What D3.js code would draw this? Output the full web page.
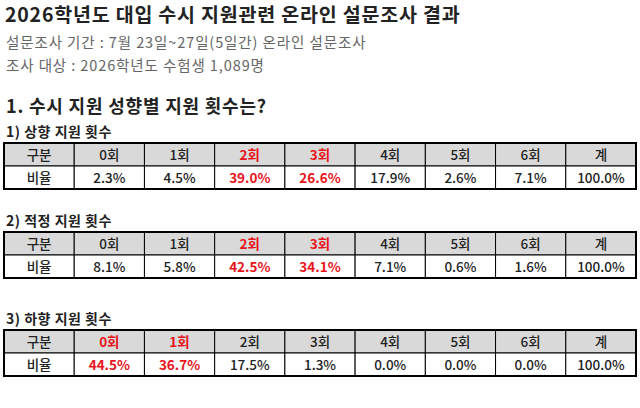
<!DOCTYPE html>
<html><head><meta charset="utf-8">
<script src="https://cdn.jsdelivr.net/npm/d3@7"></script>
<style>body{margin:0;background:#fff;font-family:"Noto Sans CJK KR","Noto Sans",sans-serif}</style>
</head><body><svg id="c" width="640" height="408"></svg>
<script>
var headers = ['구분','0회','1회','2회','3회','4회','5회','6회','계'];
var tableTitles = ['1) 상향 지원 횟수','2) 적정 지원 횟수','3) 하향 지원 횟수'];
var upward = ['2.3%','4.5%','39.0%','26.6%','17.9%','2.6%','7.1%','100.0%'];
var fitting = ['8.1%','5.8%','42.5%','34.1%','7.1%','0.6%','1.6%','100.0%'];
var downward = ['44.5%','36.7%','17.5%','1.3%','0.0%','0.0%','0.0%','100.0%'];
var highlights = [[2,3],[2,3],[0,1]];
var tableTops = [143,232,330];

var svg = d3.select('#c');
var x = d3.scaleBand().domain(d3.range(9)).range([4,636]);
var rowH = 23;

svg.append('text').attr('x',5).attr('y',22).attr('font-size',19.5).attr('font-weight','bold').attr('fill','#222')
	.attr('letter-spacing',0.8).text('2026학년도 대입 수시 지원관련 온라인 설문조사 결과');
svg.append('text').attr('x',6).attr('y',48).attr('font-size',14.5).attr('fill','#666').attr('letter-spacing',0.9)
	.text('설문조사 기간 : 7월 23일~27일(5일간) 온라인 설문조사');
svg.append('text').attr('x',6).attr('y',71).attr('font-size',14.5).attr('fill','#666').attr('letter-spacing',0.9)
	.text('조사 대상 : 2026학년도 수험생 1,089명');
svg.append('text').attr('x',6).attr('y',113).attr('font-size',18).attr('font-weight','bold').attr('fill','#222')
	.attr('letter-spacing',0.8).text('1. 수시 지원 성향별 지원 횟수는?');

[upward,fitting,downward].forEach(function(vals,t){
	var top = tableTops[t];
	svg.append('text').attr('x',6).attr('y',top-6).attr('font-size',14).attr('font-weight','bold').attr('fill','#222')
		.attr('letter-spacing',0.5).text(tableTitles[t]);
	var g = svg.append('g');
	var rows = [headers, ['비율'].concat(vals)];
	rows.forEach(function(row,r){
		row.forEach(function(v,i){
			g.append('rect').attr('x',x(i)).attr('y',top+r*rowH).attr('width',x.bandwidth()).attr('height',rowH)
				.attr('fill', r==0 ? '#d9d9d9' : '#fff').attr('stroke','#000').attr('stroke-width',1);
			var red = i>0 && highlights[t].indexOf(i-1)>=0;
			g.append('text').attr('x',x(i)+x.bandwidth()/2).attr('y',top+r*rowH+rowH/2+5)
				.attr('text-anchor','middle').attr('font-size',13.5).attr('font-weight', red ? 'bold':'500')
				.attr('fill', red ? '#e8141b' : '#222').text(v);
		});
	});
	g.append('rect').attr('x',4).attr('y',top).attr('width',632).attr('height',rowH*2)
		.attr('fill','none').attr('stroke','#000').attr('stroke-width',2);
});
</script></body></html>
